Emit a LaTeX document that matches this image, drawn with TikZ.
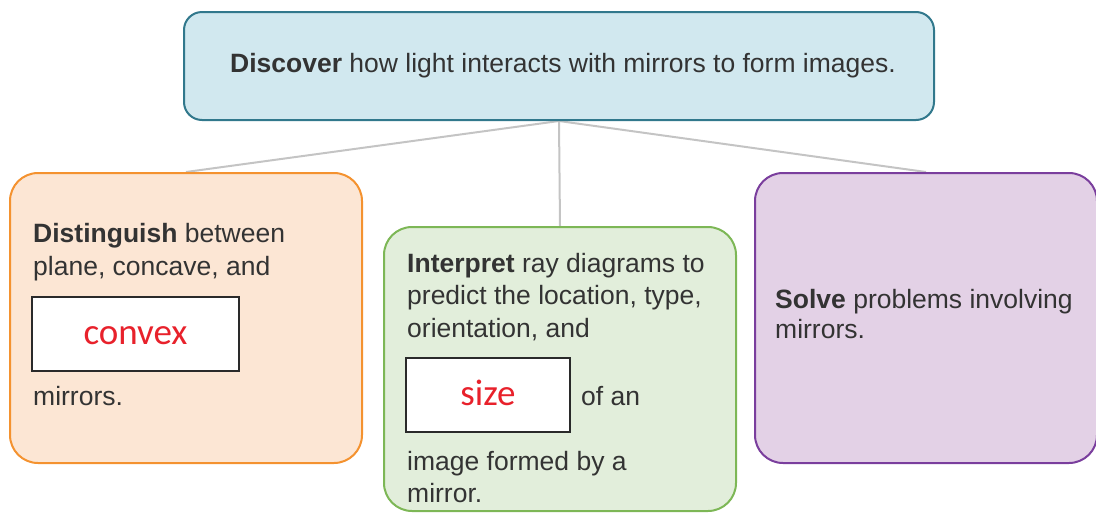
\documentclass[tikz,border=0pt]{standalone}
\usepackage{fontspec}
\setmainfont{Liberation Sans}
\newfontfamily\slotfont{Carlito}
\usetikzlibrary{backgrounds}
\definecolor{txt}{HTML}{333333}
\definecolor{topfill}{HTML}{D1E8EF}
\definecolor{topdraw}{HTML}{31788C}
\definecolor{leftfill}{HTML}{FCE6D4}
\definecolor{leftdraw}{HTML}{F4922F}
\definecolor{midfill}{HTML}{E2EEDB}
\definecolor{middraw}{HTML}{7DB756}
\definecolor{rightfill}{HTML}{E3D1E6}
\definecolor{rightdraw}{HTML}{7A3E9D}
\definecolor{conn}{HTML}{C4C4C4}
\definecolor{answer}{HTML}{E8212B}
\definecolor{slotdraw}{HTML}{2A2A2A}
\begin{document}
\begin{tikzpicture}[x=1pt,y=-1pt,
  panel/.style={rectangle, rounded corners=28pt, line width=2pt, inner sep=0pt},
  slotbox/.style={rectangle, draw=slotdraw, fill=white, line width=2.5pt, inner sep=0pt},
  line/.style={inner sep=0pt, anchor=base west, text=txt, font=\fontsize{26.5}{32.5}\selectfont},
  answertext/.style={inner sep=0pt, anchor=base, text=answer, font=\slotfont\fontsize{37}{40}\selectfont},
  link/.style={draw=conn, line width=2pt}]
\useasboundingbox (0,0) rectangle (1096,512);

% boxes
\node[panel, rounded corners=18pt, fill=topfill, draw=topdraw,
      minimum width=750pt, minimum height=108pt] (top) at (559,66) {};
\node[panel, fill=leftfill, draw=leftdraw,
      minimum width=352pt, minimum height=290pt] (left) at (186,318) {};
\node[panel, fill=midfill, draw=middraw,
      minimum width=352pt, minimum height=284pt] (mid) at (560,369) {};
\node[panel, fill=rightfill, draw=rightdraw,
      minimum width=342pt, minimum height=290pt] (right) at (926,318) {};

% connectors, kept behind the boxes
\begin{scope}[on background layer]
\draw[link] (top.south) -- (left.north);
\draw[link] (top.south) -- (mid.north);
\draw[link] (top.south) -- (right.north);
\end{scope}

% top text
\node[line, anchor=base] (toptext) at (563,72)
  {\textbf{Discover} how light interacts with mirrors to form images.};

% left box
\node[line] (l1) at (33,242) {\textbf{Distinguish} between};
\node[line] (l2) at (33,275) {plane, concave, and};
\node[slotbox, minimum width=207pt, minimum height=74pt] (convexbox) at (135.5,334) {};
\node[answertext] (convex) at (135.5,344) {convex};
\node[line] (l3) at (33,405) {mirrors.};

% middle box
\node[line] (m1) at (407,272) {\textbf{Interpret} ray diagrams to};
\node[line] (m2) at (407,304) {predict the location, type,};
\node[line] (m3) at (407,337) {orientation, and};
\node[slotbox, minimum width=164pt, minimum height=74pt] (sizebox) at (488,395) {};
\node[answertext] (size) at (488,405) {size};
\node[line] (m4) at (581,405) {of an};
\node[line] (m5) at (407,470) {image formed by a};
\node[line] (m6) at (407,502) {mirror.};

% right box
\node[line] (r1) at (775,308) {\textbf{Solve} problems involving};
\node[line] (r2) at (775,338) {mirrors.};
\end{tikzpicture}
\end{document}
